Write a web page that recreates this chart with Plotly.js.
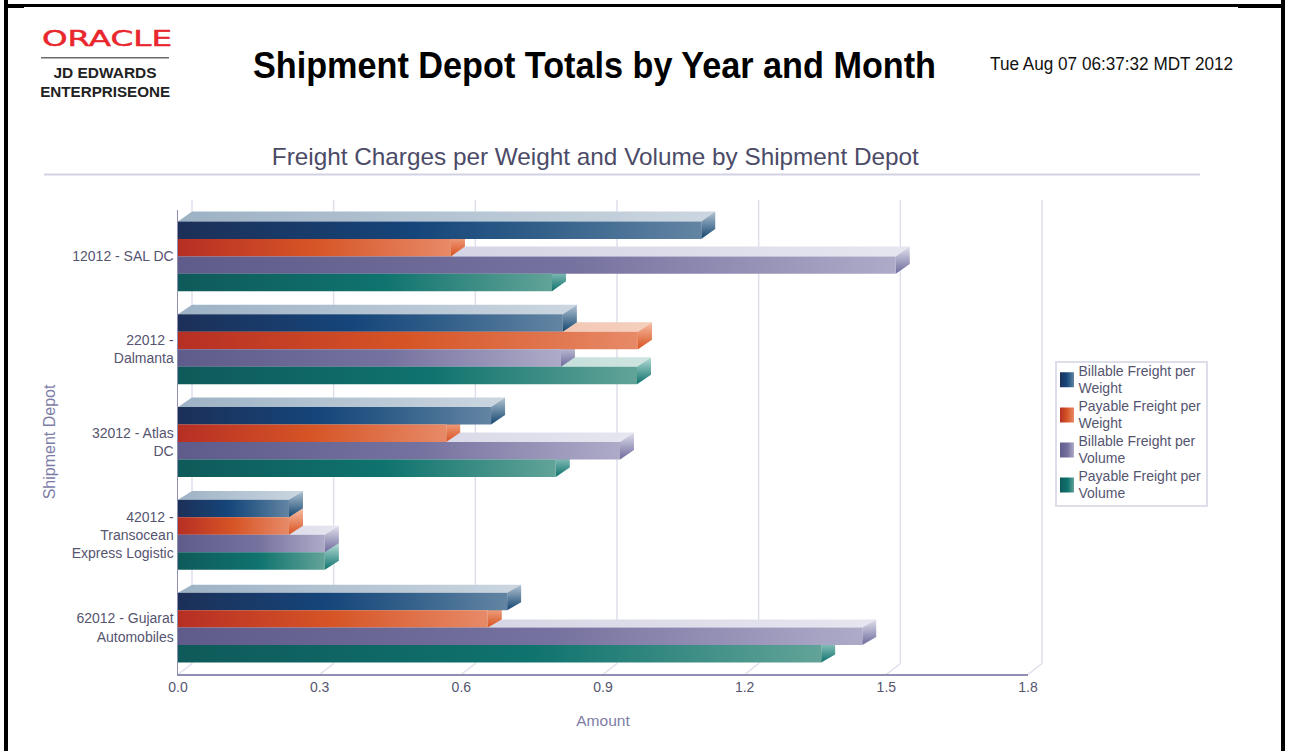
<!DOCTYPE html>
<html><head><meta charset="utf-8">
<script src="https://cdn.plot.ly/plotly-3.0.1.min.js"></script>
<style>
html,body{margin:0;padding:0;background:#fff;overflow:hidden}
#chart{position:absolute;left:0;top:0;width:1290px;height:751px}
.edge{position:absolute;background:#000;pointer-events:none}
</style></head><body>
<div id="chart"></div>
<div class="edge" style="left:4px;top:4px;width:1281px;height:3px"></div>
<div class="edge" style="left:4px;top:0;width:4px;height:751px"></div>
<div class="edge" style="left:1281px;top:0;width:4px;height:751px"></div>
<div class="edge" style="left:8px;top:7px;width:16px;height:1px"></div>
<div class="edge" style="left:1238px;top:7px;width:43px;height:1px"></div>
<script>
const depots = ['12012 - SAL DC','22012 -<br>Dalmanta','32012 - Atlas<br>DC','42012 -<br>Transocean<br>Express Logistic','62012 - Gujarat<br>Automobiles'];
const seriesNames = ['Billable Freight per<br>Weight','Payable Freight per<br>Weight','Billable Freight per<br>Volume','Payable Freight per<br>Volume'];
const billableWeight = [1.108,0.815,0.663,0.235,0.697];
const payableWeight  = [0.578,0.974,0.568,0.235,0.656];
const billableVolume = [1.520,0.811,0.936,0.311,1.449];
const payableVolume  = [0.792,0.972,0.800,0.311,1.362];
const xTicks = [0,0.3,0.6,0.9,1.2,1.5,1.8];

const values = [billableWeight,payableWeight,billableVolume,payableVolume];
const frontStops = [
 [['0','#1c3058'],['0.45','#15457a'],['0.7','#33608a'],['1','#6385a3']],
 [['0','#b62f24'],['0.5','#d65526'],['1','#e78a68']],
 [['0','#5f5b8a'],['0.55','#76729f'],['1','#aeabc9']],
 [['0','#0f5a5a'],['0.55','#0f736e'],['1','#62a398']]
];
const topStops = [
 [['0','#9db2c5'],['1','#cbd6e0']],
 [['0','#e6ad92'],['1','#f5cfbd']],
 [['0','#c9c9dd'],['1','#e6e6f0']],
 [['0','#a3cbc6'],['1','#cfe4e0']]
];
const sideStops = [
 [['0','#b3c4d3'],['1','#134570']],
 [['0','#f6bfa6'],['1','#d9511f']],
 [['0','#e0e0ec'],['1','#6d6a9c']],
 [['0','#b7ddd7'],['1','#0e726d']]
];
const flat = ['#15457a','#d65526','#76729f','#0f736e'];

const W=1290,H=751,L=178,R=1028,T=209.5,B=674.5;
const xMax=1.8, pxPerX=(R-L)/xMax, pxPerY=(B-T)/depots.length;
const bargap=0.247, barH=(1-bargap)/values.length;
const dxPx=14, dyPx=[10,9.5,9.5,9,8];
const dx=dxPx/pxPerX;

const traces = values.map((v,i)=>({type:'bar',orientation:'h',name:seriesNames[i],
  x:v,y:depots.map((_,g)=>g),marker:{color:flat[i],line:{width:0}},hoverinfo:'x+name'}));

const shapes=[], fills=[];
const wall='#dfdfec';
xTicks.forEach(t=>{
  const px=t/xMax, dp=dxPx/(R-L);
  shapes.push({type:'line',xref:'paper',yref:'paper',layer:'below',x0:px+dp,x1:px+dp,
    y0:(B-664)/(B-T),y1:(B-199.5)/(B-T),line:{color:wall,width:1.5}});
  shapes.push({type:'line',xref:'paper',yref:'paper',layer:'below',x0:px,x1:px+dp,
    y0:(B-675)/(B-T),y1:(B-664)/(B-T),line:{color:wall,width:1.5}});
  fills.push(null,null);
});
for(let i=values.length-1;i>=0;i--){
  values[i].forEach((v,g)=>{
    const dy=dyPx[g]/pxPerY;
    const yt=g-(1-bargap)/2+i*barH, yb=yt+barH;
    shapes.push({type:'path',xref:'x',yref:'y',layer:'below',line:{width:0},fillcolor:flat[i],
      path:`M0,${yt}L${dx},${yt-dy}L${v+dx},${yt-dy}L${v},${yt}Z`});
    fills.push('t'+i);
    shapes.push({type:'path',xref:'x',yref:'y',layer:'below',line:{width:0},fillcolor:flat[i],
      path:`M${v},${yt}L${v+dx},${yt-dy}L${v+dx},${yb-dy}L${v},${yb}Z`});
    fills.push('s'+i);
  });
}
shapes.push({type:'line',xref:'paper',yref:'paper',x0:(41-L)/(R-L),x1:(169-L)/(R-L),y0:(B-57)/(B-T),y1:(B-57)/(B-T),line:{color:'#6b6b6b',width:1.5}});
fills.push(null);
shapes.push({type:'line',xref:'paper',yref:'paper',x0:(44-L)/(R-L),x1:(1200-L)/(R-L),y0:(B-174)/(B-T),y1:(B-174)/(B-T),line:{color:'#d2d2e4',width:2}});
fills.push(null);

const textAt=(text,x,y,size,color,extra)=>Object.assign({text,xref:'paper',yref:'paper',
  x:(x-L)/(R-L),y:(B-y)/(B-T),xanchor:'center',yanchor:'middle',showarrow:false,
  font:{family:'Liberation Sans',size,color}},extra||{});

const annotations=[
  textAt('ORACLE',107,38,22,'#e8262c',{font:{family:'DejaVu Sans',size:22,color:'#e8262c'}}),
  textAt('<b>JD EDWARDS</b>',105,72,15,'#222'),
  textAt('<b>ENTERPRISEONE</b>',105,91,15,'#222'),
  textAt('Tue Aug 07 06:37:32 MDT 2012',1111.5,63.5,18,'#111'),
  textAt('Freight Charges per Weight and Volume by Shipment Depot',595.5,156,24,'#4b4b68')
];
const fitWidths={'ORACLE':130,'Tue Aug 07 06:37:32 MDT 2012':243,
  'Freight Charges per Weight and Volume by Shipment Depot':647,'JD EDWARDS':103,'ENTERPRISEONE':130,
  'Shipment Depot Totals by Year and Month':683};

const layout={
  width:W,height:H,paper_bgcolor:'#fff',plot_bgcolor:'rgba(0,0,0,0)',
  margin:{l:L,r:W-R,t:T,b:H-B,pad:0},
  barmode:'group',bargap:bargap,bargroupgap:0,
  title:{text:'<b>Shipment Depot Totals by Year and Month</b>',x:594.5/W,xanchor:'center',xref:'container',
    y:1-65/H,yanchor:'middle',yref:'container',font:{family:'Liberation Sans',size:36,color:'#000'}},
  font:{family:'Liberation Sans',size:14,color:'#55556f'},
  xaxis:{range:[0,xMax],tickvals:xTicks,ticktext:xTicks.map(t=>t.toFixed(1)),showgrid:false,zeroline:false,
    showline:true,linecolor:'#8f8fb4',linewidth:1.5,ticks:'',tickfont:{size:14,color:'#55556f'},
    title:{text:'Amount',font:{size:15.5,color:'#7d7da6'},standoff:21}},
  yaxis:{range:[depots.length-0.5,-0.5],tickvals:depots.map((_,g)=>g),ticktext:depots,showgrid:false,zeroline:false,
    showline:true,linecolor:'#8f8fb4',linewidth:1.5,ticks:'',tickfont:{size:14,color:'#55556f'},
    title:{text:'Shipment Depot',font:{size:16,color:'#7d7da6'},standoff:12}},
  legend:{x:(1055-L)/(R-L),xanchor:'left',y:(B-361)/(B-T),yanchor:'top',bgcolor:'#fff',bordercolor:'#dedeea',borderwidth:1.5,
    font:{size:14,color:'#55556f'},traceorder:'normal',tracegroupgap:0,itemwidth:30,entrywidth:93,entrywidthmode:'pixels'},
  shapes,annotations,showlegend:true
};

Plotly.newPlot('chart',traces,layout,{displayModeBar:false,staticPlot:true}).then(gd=>{
  const svg=gd.querySelector('.main-svg');
  const defs=svg.querySelector('defs');
  const NS='http://www.w3.org/2000/svg';
  const addGrad=(id,stops,vertical)=>{
    const g=document.createElementNS(NS,'linearGradient');
    g.setAttribute('id',id);g.setAttribute('x1','0');g.setAttribute('y1','0');
    g.setAttribute('x2',vertical?'0':'1');g.setAttribute('y2',vertical?'1':'0');
    stops.forEach(([o,c])=>{const s=document.createElementNS(NS,'stop');s.setAttribute('offset',o);s.setAttribute('stop-color',c);g.appendChild(s);});
    defs.appendChild(g);
  };
  frontStops.forEach((s,i)=>addGrad('f'+i,s,false));
  topStops.forEach((s,i)=>addGrad('t'+i,s,false));
  sideStops.forEach((s,i)=>addGrad('s'+i,s,true));
  gd.querySelectorAll('.barlayer .trace').forEach((tr,i)=>{
    tr.querySelectorAll('.point path').forEach(p=>{p.style.fill=`url(#f${i})`;});
  });
  fills.forEach((f,i)=>{
    if(!f) return;
    const p=gd.querySelector(`path[data-index="${i}"]`);
    if(p) p.style.fill=`url(#${f})`;
  });
  const bg=gd.querySelector('.legend .bg');
  if(bg){bg.setAttribute('height','144');bg.setAttribute('width','151');}
  gd.querySelectorAll('.legend .traces').forEach((tr,i)=>{
    const m=/translate\(\s*([-\d.]+)[ ,]+([-\d.]+)/.exec(tr.getAttribute('transform')||'');
    if(m) tr.setAttribute('transform',`translate(${m[1]},${+m[2]-7.5-4.33*i})`);
    const sw=tr.querySelector('.legendpoints path');
    if(sw){sw.style.fill=`url(#f${i})`;sw.style.stroke='none';sw.setAttribute('d','M-7,-7.5H7V7.5H-7Z');sw.setAttribute('transform','translate(10.5,0)');}
    const tx=tr.querySelector('.legendtext');
    if(tx){
      tx.setAttribute('transform','translate(-18,0)');
      const lines=tx.querySelectorAll('tspan.line');
      if(lines[1]) lines[1].setAttribute('dy','17px');
    }
  });
  gd.querySelectorAll('text').forEach(t=>{
    const w=fitWidths[t.textContent];
    if(w){t.setAttribute('textLength',w);t.setAttribute('lengthAdjust','spacingAndGlyphs');}
    if(t.textContent==='ORACLE'){t.style.stroke='#e8262c';t.style.strokeWidth='0.5px';}
  });
});
</script>
</body></html>
